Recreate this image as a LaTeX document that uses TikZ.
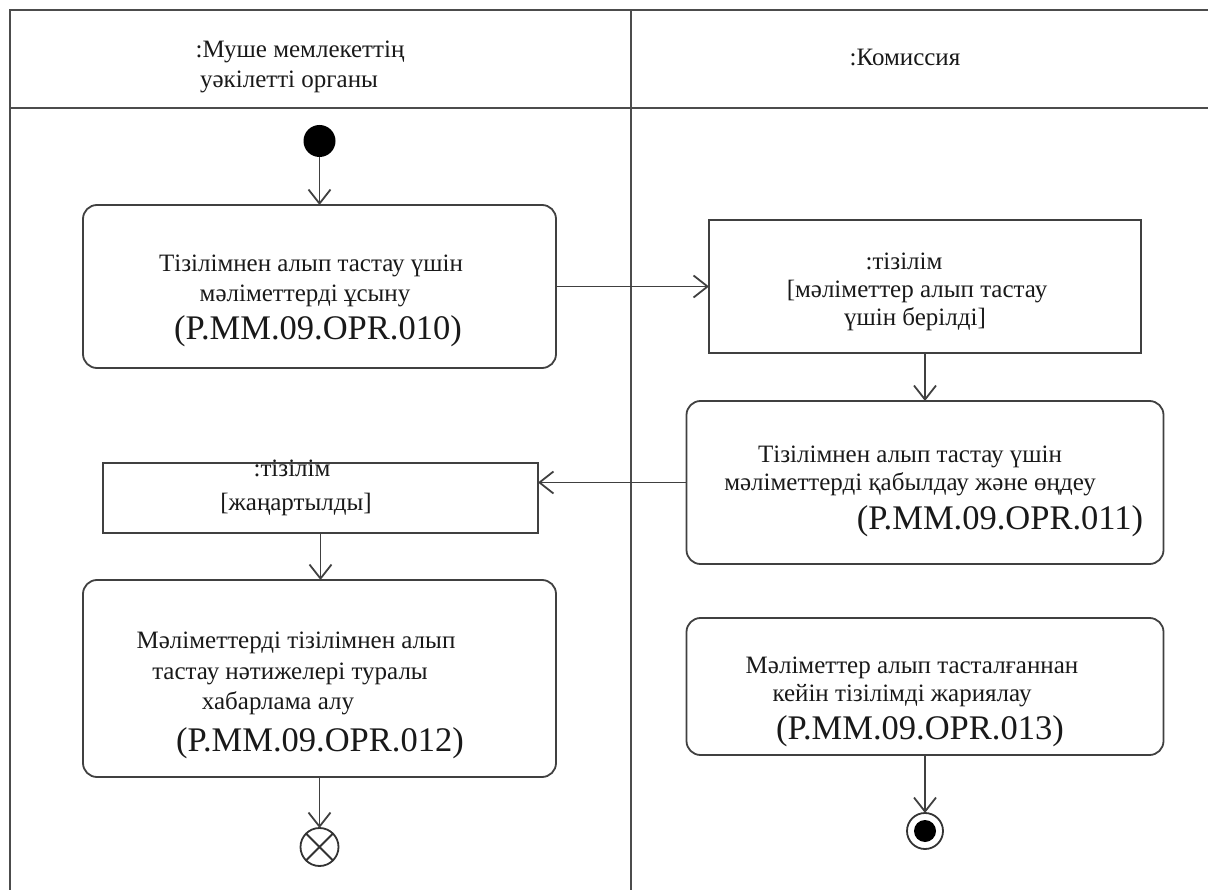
\documentclass[tikz,border=0pt]{standalone}
\usepackage{fontspec}
\setmainfont{Liberation Serif}
\usetikzlibrary{arrows.meta}
\tikzset{
  lane/.style={line width=2pt,draw=black!70},
  actbox/.style 2 args={draw=black!75,line width=1.8pt,rounded corners=14pt,minimum width=#1,minimum height=#2,inner sep=0pt,outer sep=0pt},
  objbox/.style 2 args={draw=black!75,line width=1.8pt,minimum width=#1,minimum height=#2,inner sep=0pt,outer sep=0pt},
  hdr/.style={font=\fontsize{25}{29}\selectfont,anchor=base,text=black!90,inner sep=0pt},
  txt/.style={font=\fontsize{25}{29}\selectfont,anchor=base,text=black!90,inner sep=0pt},
  code/.style={font=\fontsize{34.5}{38}\selectfont,anchor=base,text=black!90,inner sep=0pt},
  flow/.style={line width=1.8pt,draw=black!75,-{Straight Barb[length=14pt,width=22pt,line width=1.8pt]}},
  pseudo/.style={circle,draw=black!80,line width=1.8pt,inner sep=0pt,outer sep=0pt}
}
\begin{document}
\begin{tikzpicture}[x=1pt,y=-1pt]
\useasboundingbox (0,0) rectangle (1208,890);
% swimlanes
\draw[lane] (10,890) -- (10,10) -- (1208,10);
\draw[lane] (10,108) -- (1208,108);
\draw[lane] (631,10) -- (631,890);
\node[hdr] (h1a) at (300,58) {:Муше мемлекеттің};
\node[hdr] (h1b) at (289,88) {уәкілетті органы};
\node[hdr] (h2) at (905,66) {:Комиссия};

% start
\node[circle,fill=black,minimum size=32pt,inner sep=0pt,outer sep=0pt] (start) at (319.5,141) {};

% activity 1
\node[actbox={473}{163}] (a1) at (319.5,286.5) {};
\node[txt] (a1l1) at (311,272) {Тізілімнен алып тастау үшін};
\node[txt] (a1l2) at (305,302) {мәліметтерді ұсыну};
\node[code] (a1c) at (318,339.5) {(P.MM.09.OPR.010)};

% object 1
\node[objbox={432}{133}] (o1) at (925,286.5) {};
\node[txt] (o1l1) at (904,270) {:тізілім};
\node[txt] (o1l2) at (917,298) {[мәліметтер алып тастау};
\node[txt] (o1l3) at (915,326) {үшін берілді]};

% activity 2
\node[actbox={477}{163}] (a2) at (925,482.5) {};
\node[txt] (a2l1) at (910,463) {Тізілімнен алып тастау үшін};
\node[txt] (a2l2) at (910,490) {мәліметтерді қабылдау және өңдеу};
\node[code] (a2c) at (1000,529.5) {(P.MM.09.OPR.011)};

% object 2
\node[objbox={435}{70}] (o2) at (320.5,498) {};
\node[txt] (o2l1) at (292,476) {:тізілім};
\node[txt] (o2l2) at (296,510) {[жаңартылды]};

% activity 3
\node[actbox={473}{197}] (a3) at (319.5,678.5) {};
\node[txt] (a3l1) at (296,648) {Мәліметтерді тізілімнен алып};
\node[txt] (a3l2) at (290,679) {тастау нәтижелері туралы};
\node[txt] (a3l3) at (278,709) {хабарлама алу};
\node[code] (a3c) at (320,751.5) {(P.MM.09.OPR.012)};

% activity 4
\node[actbox={477}{137}] (a4) at (925,686.5) {};
\node[txt] (a4l1) at (912,673) {Мәліметтер алып тасталғаннан};
\node[txt] (a4l2) at (902,701) {кейін тізілімді жариялау};
\node[code] (a4c) at (920,739.5) {(P.MM.09.OPR.013)};

% flow final
\node[pseudo,minimum size=38pt] (ff) at (319.5,847) {};
\draw[line width=1.8pt,draw=black!80] (ff.north west) -- (ff.south east) (ff.north east) -- (ff.south west);

% activity final
\node[pseudo,minimum size=36pt] (fin) at (925,831) {};
\node[circle,fill=black,minimum size=22pt,inner sep=0pt] (finin) at (fin.center) {};

% flows
\draw[flow] (start.south) -- (start.south |- a1.north);
\draw[flow] (a1.east) -- (o1.west);
\draw[flow] (o1.south) -- (o1.south |- a2.north);
\draw[flow] (a2.west) -- (a2.west -| o2.east);
\draw[flow] (o2.south) -- (o2.south |- a3.north);
\draw[flow] (a3.south) -- (a3.south |- ff.north);
\draw[flow] (a4.south) -- (a4.south |- fin.north);
\end{tikzpicture}
\end{document}
